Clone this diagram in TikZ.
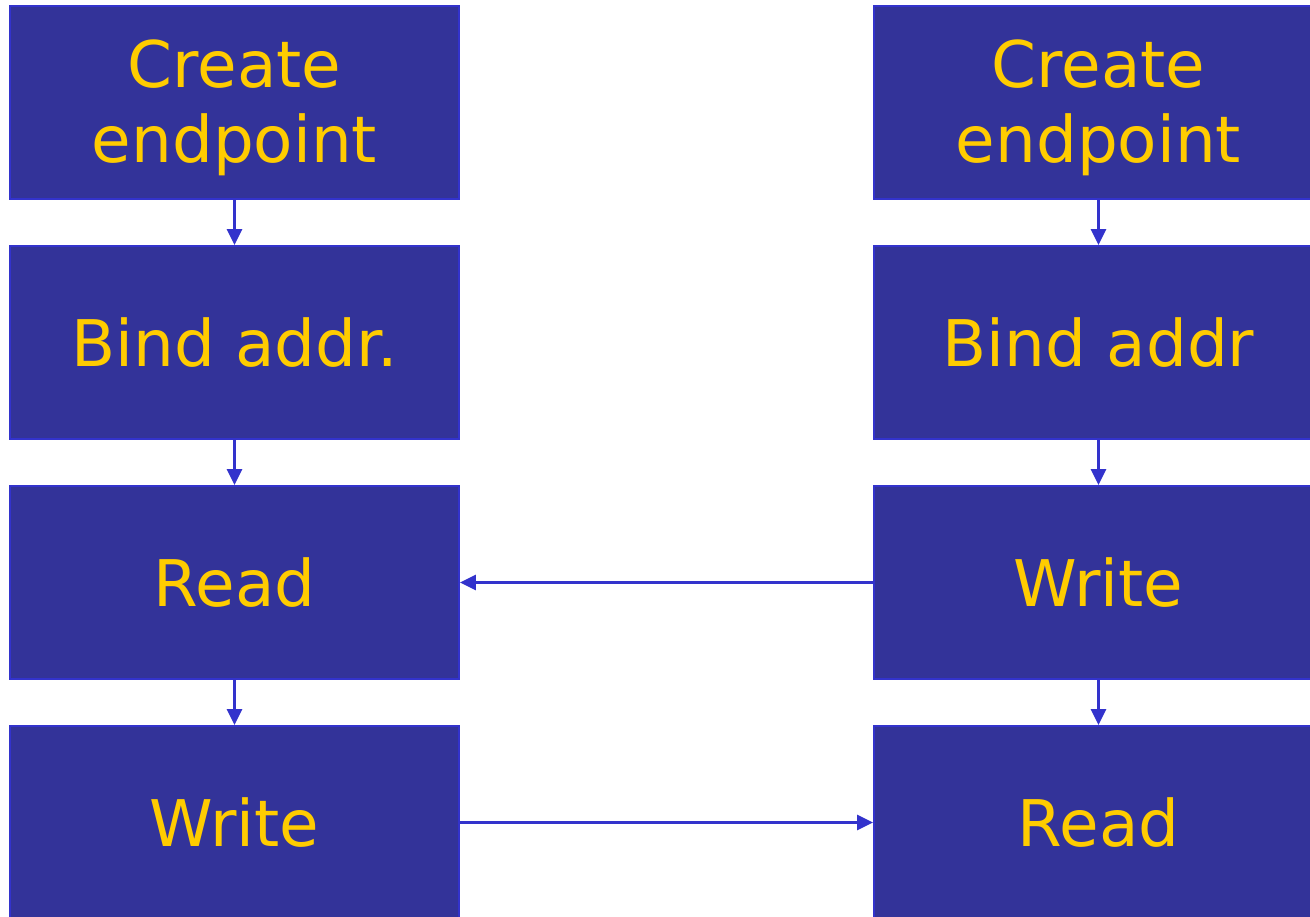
\documentclass[tikz,border=0pt]{standalone}
\usepackage{fontspec}
\setmainfont{DejaVu Sans}
\usetikzlibrary{arrows.meta}

\definecolor{boxfill}{HTML}{333399}
\definecolor{boxline}{HTML}{3333CC}
\definecolor{boxtext}{HTML}{FFCC00}

\begin{document}
\begin{tikzpicture}[
    stepbox/.style={draw=boxline, line width=1.1pt, fill=boxfill, text=boxtext,
      minimum width=8.98cm, minimum height=3.86cm, align=center,
      font=\fontsize{36.6}{42.7}\selectfont},
    flow/.style={boxline, line width=1.7pt, -{Triangle[length=0.32cm,width=0.3cm]}}
  ]
  \useasboundingbox (0,0) rectangle (26.2,18.32);
  \clip (0,0) rectangle (26.2,18.32);

  % Left side: listening endpoint
  \node[stepbox] (lcreate) at (4.69,16.27) {\\[-0.34cm]Create\\endpoint};
  \node[stepbox] (lbind)   at (4.69,11.47) {Bind addr.};
  \node[stepbox] (lread)   at (4.69,6.67)  {Read};
  \node[stepbox] (lwrite)  at (4.69,1.87)  {Write};

  % Right side: sending endpoint
  \node[stepbox] (rcreate) at (21.97,16.27) {\\[-0.34cm]Create\\endpoint};
  \node[stepbox] (rbind)   at (21.97,11.47) {Bind addr};
  \node[stepbox] (rwrite)  at (21.97,6.67)  {Write};
  \node[stepbox] (rread)   at (21.97,1.87)  {Read};

  % Steps within each side
  \draw[flow] (lcreate) -- (lbind);
  \draw[flow] (lbind) -- (lread);
  \draw[flow] (lread) -- (lwrite);
  \draw[flow] (rcreate) -- (rbind);
  \draw[flow] (rbind) -- (rwrite);
  \draw[flow] (rwrite) -- (rread);

  % Messages between the two sides
  \draw[flow] (rwrite) -- (lread);
  \draw[flow] (lwrite) -- (rread);
\end{tikzpicture}
\end{document}
